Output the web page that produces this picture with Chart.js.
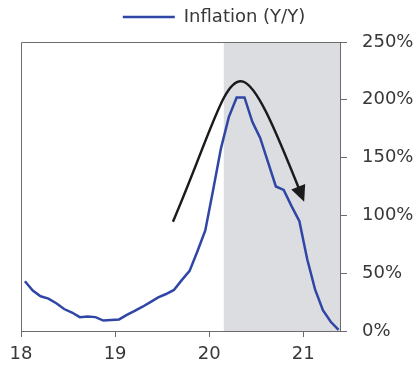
<!DOCTYPE html>
<html>
<head>
<meta charset="utf-8">
<script src="https://cdn.jsdelivr.net/npm/chart.js@4/dist/chart.umd.min.js"></script>
<style>
  html, body { margin: 0; padding: 0; background: #fff; }
  #wrap { width: 419px; height: 366px; }
</style>
</head>
<body>
<div id="wrap"><canvas id="inflationChart" width="419" height="366"></canvas></div>
<script>
// monthly year-over-year inflation, Jan 2018 .. May 2021
var startYear = 18;
var inflation = [
  43, 35, 30, 28, 24, 19, 16, 12, 12.5, 12, 9, 9.5,
  10, 14, 17.5, 21, 25, 29, 32, 35.5, 44, 52, 69, 87,
  122, 158, 185, 202, 202, 181, 167, 146, 125, 122, 108, 95,
  62, 36, 18, 8, 1
];
var yearTicks = [18, 19, 20, 21];
var percentTicks = [0, 50, 100, 150, 200, 250];
var shadeFrom = 20.155;
var axisEnd = 21.39;

// trend arrow as one cubic bezier, [year, percent]: start, control 1, control 2, tip
var arrowCurve = [[19.615, 94.6], [20.322, 229.8], [20.223, 272.6], [21.009, 111.9]];

var points = [];
for (var i = 0; i < inflation.length; i++) {
  points.push({ x: startYear + (i + 0.5) / 12, y: inflation[i] });
}

var axisColor = '#6b6b6b';
var textColor = '#383838';
var labelFont = { family: '"DejaVu Sans", sans-serif', size: 18 };

// extra room between the legend and the plot, legend nudged a bit left
var legendSpace = {
  id: 'legendSpace',
  beforeInit: function (chart) {
    var fit = chart.legend.fit;
    chart.legend.fit = function () {
      fit.call(this);
      this.height += 6;
    };
  },
  afterLayout: function (chart) {
    chart.legend.left -= 6;
    chart.legend.right -= 6;
  }
};

var decorPlugin = {
  id: 'decor',
  beforeDatasetsDraw: function (chart) {
    var ctx = chart.ctx;
    var area = chart.chartArea;
    var left = chart.scales.x.getPixelForValue(shadeFrom);
    ctx.save();
    ctx.fillStyle = '#dcdde0';
    ctx.fillRect(left, area.top, area.right - left, area.bottom - area.top);
    // top and left edges of the frame
    ctx.strokeStyle = axisColor;
    ctx.lineWidth = 1;
    ctx.beginPath();
    ctx.moveTo(Math.round(area.left) + 0.5, Math.round(area.bottom));
    ctx.lineTo(Math.round(area.left) + 0.5, Math.round(area.top) + 0.5);
    ctx.lineTo(Math.round(area.right), Math.round(area.top) + 0.5);
    ctx.stroke();
    ctx.restore();
  },
  afterDatasetsDraw: function (chart) {
    var ctx = chart.ctx;
    var xs = chart.scales.x;
    var ys = chart.scales.y;
    var p = arrowCurve.map(function (c) {
      return { x: xs.getPixelForValue(c[0]), y: ys.getPixelForValue(c[1]) };
    });
    ctx.save();
    ctx.strokeStyle = '#1b1b1b';
    ctx.fillStyle = '#1b1b1b';
    ctx.lineWidth = 2.5;
    // stop the stroke a little short so the head covers it
    var ang = Math.atan2(p[3].y - p[2].y, p[3].x - p[2].x);
    var len = 16, half = 7.5;
    var bx = p[3].x - Math.cos(ang) * len;
    var by = p[3].y - Math.sin(ang) * len;
    ctx.beginPath();
    ctx.moveTo(p[0].x, p[0].y);
    ctx.bezierCurveTo(p[1].x, p[1].y, p[2].x, p[2].y,
      p[3].x - Math.cos(ang) * 6, p[3].y - Math.sin(ang) * 6);
    ctx.stroke();
    ctx.beginPath();
    ctx.moveTo(p[3].x, p[3].y);
    ctx.lineTo(bx + Math.sin(ang) * half, by - Math.cos(ang) * half);
    ctx.lineTo(bx - Math.sin(ang) * half, by + Math.cos(ang) * half);
    ctx.closePath();
    ctx.fill();
    ctx.restore();
  }
};

var chart = new Chart(document.getElementById('inflationChart').getContext('2d'), {
  type: 'line',
  data: {
    datasets: [{
      label: 'Inflation (Y/Y)',
      data: points,
      borderColor: '#3046a6',
      backgroundColor: '#3046a6',
      borderWidth: 2.5,
      pointRadius: 0,
      tension: 0,
      fill: false
    }]
  },
  options: {
    responsive: false,
    animation: false,
    devicePixelRatio: 1,
    layout: { padding: { left: 21, right: 0, top: 0, bottom: 0 } },
    plugins: {
      tooltip: { enabled: false },
      legend: {
        display: true,
        position: 'top',
        labels: {
          usePointStyle: true,
          pointStyle: 'line',
          pointStyleWidth: 52,
          color: textColor,
          font: labelFont,
          padding: 8
        }
      }
    },
    scales: {
      x: {
        type: 'linear',
        min: startYear,
        max: axisEnd,
        afterBuildTicks: function (axis) {
          axis.ticks = yearTicks.map(function (v) { return { value: v }; });
        },
        afterFit: function (axis) { axis.height = 35; },
        grid: { drawOnChartArea: false, tickLength: 6, color: axisColor },
        border: { display: true, color: axisColor },
        ticks: {
          color: textColor,
          font: labelFont,
          maxRotation: 0,
          padding: 7,
          callback: function (v) { return String(v); }
        }
      },
      y: {
        position: 'right',
        min: 0,
        max: 250,
        afterBuildTicks: function (axis) {
          axis.ticks = percentTicks.map(function (v) { return { value: v }; });
        },
        afterFit: function (axis) { axis.width = 79; },
        grid: { drawOnChartArea: false, tickLength: 7, color: axisColor },
        border: { display: true, color: axisColor },
        ticks: {
          color: textColor,
          font: labelFont,
          padding: 15,
          callback: function (v) { return v + '%'; }
        }
      }
    }
  },
  plugins: [legendSpace, decorPlugin]
});
</script>
</body>
</html>
